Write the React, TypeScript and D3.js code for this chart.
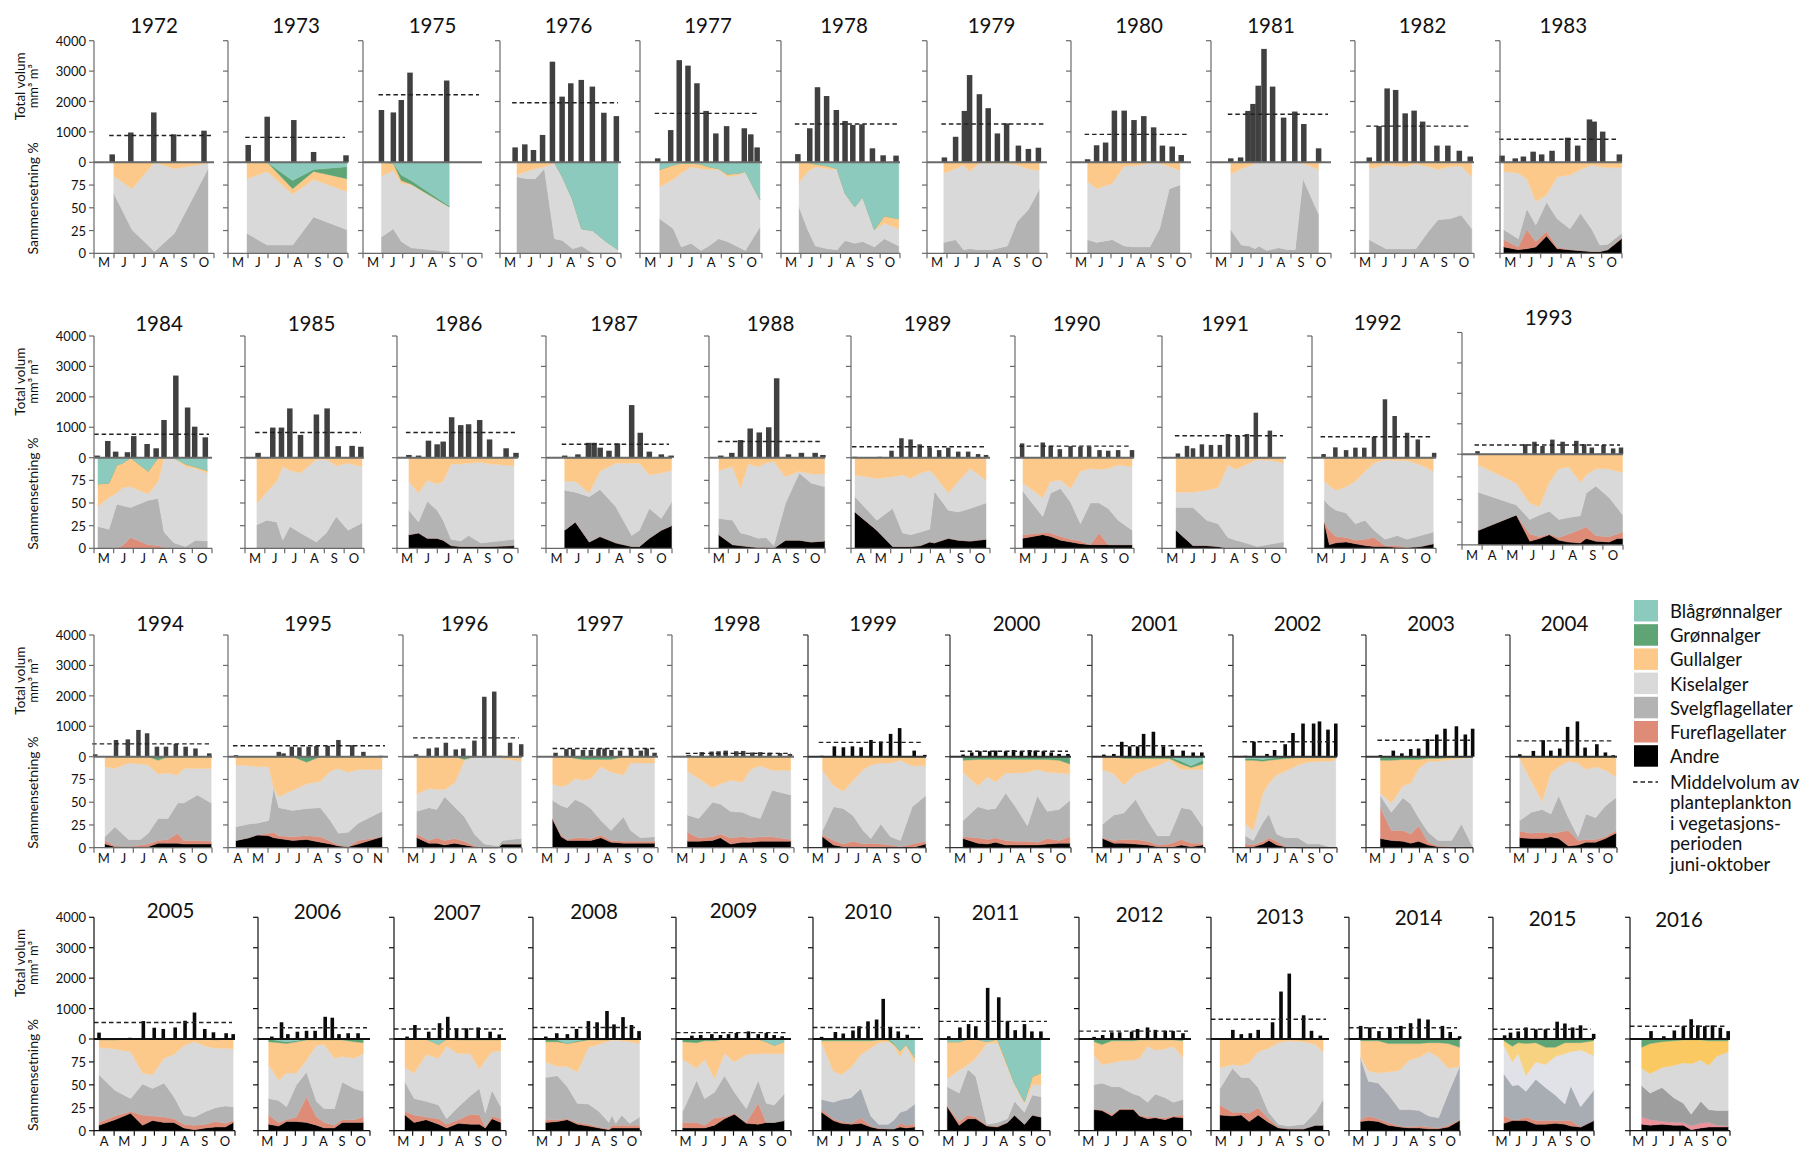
import React from "react";
import * as d3 from "d3";

// ---------------- DATA ----------------
const years = [1972, 1973, 1975, 1976, 1977, 1978, 1979, 1980, 1981, 1982, 1983,
  1984, 1985, 1986, 1987, 1988, 1989, 1990, 1991, 1992, 1993,
  1994, 1995, 1996, 1997, 1998, 1999, 2000, 2001, 2002, 2003, 2004,
  2005, 2006, 2007, 2008, 2009, 2010, 2011, 2012, 2013, 2014, 2015, 2016];

// first and last month shown on each panel's x axis (3 = March ... 11 = November)
const monthSpan = [
  [5, 10], [5, 10], [5, 10], [5, 10], [5, 10], [5, 10], [5, 10], [5, 10], [5, 10], [5, 10], [5, 10],
  [5, 10], [5, 10], [5, 10], [5, 10], [5, 10], [4, 10], [5, 10], [5, 10], [5, 10], [3, 10],
  [5, 10], [4, 11], [5, 10], [5, 10], [5, 10], [5, 10], [5, 10], [5, 10], [5, 10], [5, 10], [5, 10],
  [4, 10], [5, 10], [5, 10], [5, 10], [5, 10], [5, 10], [5, 10], [5, 10], [5, 10], [5, 10], [5, 10], [5, 10]];

const monthLetters = ["J", "F", "M", "A", "M", "J", "J", "A", "S", "O", "N", "D"];
const volumeTicks = [0, 1000, 2000, 3000, 4000];
const compTicks = [0, 25, 50, 75];

// sampling dates of the volume bars (month number + fraction of month)
const barDates = [
  [5.91, 6.84, 7.99, 8.98, 10.5],
  [6.01, 6.96, 8.29, 9.28, 10.9],
  [5.93, 6.53, 6.93, 7.37, 9.22],
  [5.75, 6.23, 6.66, 7.11, 7.6, 8.08, 8.51, 9.03, 9.58, 10.15, 10.77],
  [5.87, 6.51, 6.93, 7.36, 7.8, 8.25, 8.73, 9.26, 10.13, 10.45, 10.76],
  [5.85, 6.45, 6.84, 7.3, 7.79, 8.23, 8.62, 9.08, 9.61, 10.15, 10.8],
  [5.87, 6.43, 6.87, 7.13, 7.62, 8.06, 8.52, 8.98, 9.57, 10.07, 10.57],
  [5.83, 6.28, 6.73, 7.17, 7.66, 8.15, 8.64, 9.13, 9.57, 10.06, 10.51],
  [5.99, 6.48, 6.85, 7.1, 7.36, 7.65, 8.08, 8.63, 9.19, 9.64, 10.38],
  [5.72, 6.21, 6.62, 7.05, 7.53, 7.98, 8.41, 9.13, 9.68, 10.26, 10.81],
  [5.1, 5.75, 6.15, 6.63, 7.05, 7.56, 8.33, 8.82, 9.4, 9.63, 10.05, 10.87],
  [5.16, 5.7, 6.1, 6.7, 7.02, 7.7, 8.16, 8.56, 9.16, 9.76, 10.12, 10.66],
  [5.66, 6.4, 6.84, 7.26, 7.8, 8.6, 9.14, 9.7, 10.4, 10.84],
  [5.59, 6.07, 6.56, 6.99, 7.29, 7.71, 8.16, 8.55, 9.1, 9.59, 10.41, 10.9],
  [5.89, 6.52, 7.02, 7.29, 7.58, 8.0, 8.4, 9.08, 9.49, 9.92, 10.49, 10.96],
  [5.61, 6.18, 6.63, 7.13, 7.6, 8.09, 8.5, 9.11, 9.78, 10.49, 10.89],
  [4.2, 5.44, 6.04, 6.54, 7.0, 7.46, 7.96, 8.44, 8.9, 9.4, 9.9, 10.4, 10.8],
  [5.36, 6.4, 6.8, 7.26, 7.8, 8.3, 8.74, 9.26, 9.7, 10.2, 10.9],
  [5.77, 6.21, 6.5, 6.93, 7.37, 7.8, 8.19, 8.67, 9.11, 9.54, 10.22],
  [5.56, 6.13, 6.65, 7.1, 7.53, 8.0, 8.53, 9.0, 9.6, 10.12, 10.91],
  [3.77, 6.14, 6.6, 7.0, 7.49, 8.0, 8.68, 9.07, 9.45, 10.03, 10.51, 10.9],
  [5.06, 6.12, 6.72, 7.26, 7.7, 8.2, 8.66, 9.16, 9.66, 10.16, 10.86],
  [4.4, 6.54, 6.78, 7.19, 7.57, 8.03, 8.42, 8.98, 9.52, 10.21, 10.77, 11.64],
  [5.66, 6.3, 6.7, 7.16, 7.66, 8.04, 8.6, 9.1, 9.6, 9.9, 10.4, 10.96],
  [5.92, 6.46, 6.79, 7.28, 7.67, 8.05, 8.35, 8.69, 9.12, 9.66, 10.15, 10.44, 10.83],
  [5.82, 6.46, 6.95, 7.29, 7.64, 8.16, 8.5, 8.95, 9.34, 9.79, 10.31, 10.8],
  [5.7, 6.34, 6.8, 7.26, 7.7, 8.2, 8.7, 9.2, 9.66, 10.4, 10.94],
  [5.65, 6.08, 6.48, 6.97, 7.26, 7.76, 8.15, 8.54, 8.94, 9.23, 9.63, 10.02, 10.41, 10.85],
  [5.63, 6.16, 6.58, 7.0, 7.42, 7.74, 8.26, 8.79, 9.27, 9.84, 10.37, 10.83],
  [5.72, 6.21, 6.96, 7.4, 8.01, 8.46, 9.04, 9.65, 9.99, 10.48, 10.93],
  [5.81, 6.53, 7.01, 7.51, 7.95, 8.45, 8.97, 9.43, 10.07, 10.57, 10.98],
  [5.55, 6.31, 6.86, 7.29, 7.79, 8.23, 8.78, 9.21, 9.87, 10.35, 10.79],
  [4.25, 5.78, 6.45, 6.99, 7.44, 8.03, 8.52, 8.99, 9.5, 9.93, 10.56, 10.91],
  [5.74, 6.26, 6.6, 7.11, 7.6, 8.06, 8.6, 8.98, 9.34, 9.83, 10.36],
  [5.7, 6.12, 6.86, 7.44, 7.88, 8.35, 8.88, 9.51, 10.15, 10.64],
  [5.71, 6.32, 6.91, 7.42, 8.08, 8.56, 9.11, 9.5, 10.0, 10.47, 10.89],
  [5.35, 5.83, 6.29, 6.87, 7.32, 7.74, 8.15, 8.78, 9.29, 9.71, 10.12, 10.54],
  [5.47, 6.22, 6.65, 7.18, 7.51, 8.0, 8.47, 8.83, 9.22, 9.65, 10.14],
  [5.53, 6.13, 6.6, 6.99, 7.63, 8.23, 8.7, 9.12, 9.62, 10.02, 10.51],
  [5.81, 6.27, 6.76, 7.18, 7.82, 8.14, 8.67, 9.09, 9.62, 10.04, 10.57],
  [5.46, 6.11, 6.54, 7.0, 7.4, 8.13, 8.56, 8.98, 9.71, 10.11, 10.56],
  [5.63, 6.12, 6.62, 7.21, 7.8, 8.33, 8.79, 9.27, 10.05, 10.47, 10.98],
  [5.69, 6.04, 6.5, 6.96, 7.54, 8.12, 8.81, 9.27, 9.73, 10.2, 10.98],
  [5.86, 6.26, 7.03, 7.66, 8.2, 8.67, 9.07, 9.49, 9.95, 10.42, 10.89]];

// total volume, mm3 m-3
const volume = [
  [260, 980, 1640, 920, 1040],
  [570, 1500, 1390, 340, 230],
  [1720, 1640, 2050, 2950, 2690],
  [490, 590, 405, 900, 3310, 2160, 2600, 2710, 2490, 1630, 1520],
  [130, 1060, 3360, 3180, 2600, 1690, 950, 1190, 1120, 920, 490],
  [270, 1120, 2470, 2180, 1720, 1360, 1230, 1250, 460, 230, 220],
  [160, 840, 1690, 2870, 2240, 1780, 950, 1280, 550, 440, 480],
  [100, 560, 650, 1700, 1700, 1390, 1520, 1150, 550, 520, 240],
  [130, 160, 1690, 1920, 2520, 3730, 2490, 1470, 1670, 1260, 460],
  [160, 1190, 2430, 2380, 1610, 1700, 1340, 550, 550, 380, 190],
  [220, 130, 190, 350, 260, 380, 810, 550, 1410, 1340, 1010, 260],
  [70, 550, 200, 180, 710, 450, 310, 1240, 2700, 1650, 1020, 670],
  [160, 990, 990, 1620, 750, 1420, 1620, 380, 390, 360],
  [90, 70, 560, 440, 530, 1330, 1070, 1100, 1240, 600, 310, 160],
  [70, 110, 490, 490, 330, 230, 470, 1730, 820, 200, 110, 70],
  [70, 160, 580, 960, 830, 1000, 2610, 110, 160, 160, 90],
  [30, 30, 230, 640, 600, 440, 340, 250, 330, 200, 200, 120, 90],
  [470, 500, 390, 280, 380, 360, 360, 250, 230, 250, 250],
  [140, 390, 310, 440, 420, 420, 780, 720, 780, 1480, 890],
  [120, 340, 250, 330, 330, 690, 1920, 1370, 820, 600, 160],
  [100, 330, 410, 270, 480, 410, 440, 330, 220, 300, 190, 220],
  [80, 550, 570, 880, 770, 330, 330, 420, 330, 270, 110],
  [50, 160, 110, 330, 310, 330, 350, 360, 550, 380, 160, 30],
  [80, 270, 300, 460, 240, 270, 530, 1970, 2140, 30, 460, 410],
  [130, 250, 250, 220, 220, 250, 270, 220, 200, 250, 200, 270, 130],
  [60, 150, 170, 180, 200, 180, 190, 140, 150, 130, 120, 90],
  [30, 340, 310, 340, 310, 550, 500, 750, 940, 200, 60],
  [70, 140, 180, 180, 200, 180, 220, 180, 220, 200, 180, 140, 90, 90],
  [70, 90, 490, 340, 340, 750, 820, 340, 230, 200, 140, 140],
  [30, 490, 90, 220, 410, 780, 1090, 1090, 1160, 890, 1090],
  [50, 200, 110, 250, 270, 580, 730, 920, 1000, 730, 920],
  [80, 190, 540, 200, 270, 980, 1160, 300, 410, 140, 50],
  [210, 40, 590, 370, 330, 380, 600, 870, 330, 220, 190, 160],
  [80, 550, 160, 240, 270, 270, 730, 700, 160, 190, 190],
  [80, 460, 240, 520, 730, 350, 350, 380, 240, 150],
  [80, 190, 160, 330, 590, 550, 920, 480, 720, 460, 260],
  [20, 110, 130, 160, 130, 160, 200, 250, 160, 200, 130, 90],
  [70, 230, 180, 280, 420, 580, 640, 1320, 380, 250, 140],
  [90, 380, 490, 420, 1680, 1370, 580, 290, 490, 250, 250],
  [70, 130, 220, 220, 240, 330, 380, 300, 270, 260, 190],
  [20, 300, 160, 190, 300, 550, 1560, 2150, 780, 270, 110],
  [430, 380, 260, 380, 430, 520, 670, 640, 430, 230, 90],
  [120, 210, 250, 380, 320, 320, 570, 510, 380, 450, 170],
  [30, 260, 90, 280, 420, 650, 450, 420, 450, 370, 260]];

// mean volume June-October
const meanVolume = [880, 820, 2220, 1960, 1610, 1260, 1260, 920, 1580, 1190, 760,
  770, 830, 830, 440, 530, 360, 380, 720, 690, 300,
  420, 360, 620, 270, 110, 470, 180, 360, 490, 540, 520,
  540, 370, 330, 380, 210, 380, 580, 260, 650, 370, 320, 420];

// sampling dates of the composition
const compDates = [
  [5.99, 6.9, 8.03, 9.02, 10.7],
  [5.95, 6.96, 8.23, 9.28, 10.94],
  [5.93, 6.53, 6.93, 7.43, 9.35],
  [5.84, 6.3, 6.75, 7.2, 7.7, 8.1, 8.6, 9.05, 9.6, 10.2, 10.85],
  [5.97, 6.64, 7.03, 7.51, 8.0, 8.38, 8.87, 9.29, 9.84, 10.18, 10.9],
  [5.91, 6.35, 6.74, 7.34, 7.83, 8.23, 8.72, 9.12, 9.71, 10.21, 10.94],
  [5.84, 6.43, 6.83, 7.13, 7.62, 8.22, 9.02, 9.51, 10.07, 10.61],
  [5.83, 6.28, 7.07, 7.66, 8.15, 8.94, 9.43, 9.92, 10.45],
  [5.99, 6.52, 6.91, 7.2, 7.4, 7.79, 8.37, 8.86, 9.21, 9.6, 10.38],
  [5.72, 6.56, 7.52, 8.07, 8.7, 9.19, 9.77, 10.36, 10.89],
  [5.19, 5.9, 6.32, 6.76, 7.29, 7.81, 8.44, 8.96, 9.53, 9.91, 10.3, 10.98],
  [5.2, 5.76, 6.16, 6.46, 6.86, 7.76, 8.26, 8.56, 9.06, 9.66, 10.16, 10.76],
  [5.6, 6.1, 6.6, 6.9, 7.26, 7.8, 8.6, 9.1, 9.6, 10.2, 10.9],
  [5.59, 6.07, 6.5, 6.99, 7.29, 7.68, 8.16, 8.55, 9.14, 9.63, 10.8],
  [5.89, 6.4, 7.06, 7.57, 8.32, 9.08, 9.45, 9.92, 10.49, 10.98],
  [5.51, 6.22, 6.63, 7.03, 7.54, 7.95, 8.35, 8.96, 9.67, 10.28, 10.98],
  [4.2, 5.3, 6.1, 6.6, 7.0, 7.5, 7.96, 8.2, 8.9, 9.4, 10.0, 10.8],
  [5.4, 6.4, 6.8, 7.3, 7.8, 8.3, 8.8, 9.24, 9.7, 10.2, 10.9],
  [5.68, 6.5, 7.16, 7.72, 8.19, 8.57, 9.04, 9.6, 10.35, 10.88],
  [5.6, 5.84, 6.16, 6.65, 7.1, 7.57, 8.0, 8.53, 9.13, 9.6, 10.25, 10.87],
  [3.81, 5.7, 6.37, 6.85, 7.34, 7.82, 8.3, 8.88, 9.17, 9.65, 10.32, 10.71, 10.98],
  [5.56, 6.06, 6.76, 7.36, 7.76, 8.26, 8.76, 9.26, 9.56, 10.26, 10.96],
  [4.4, 5.05, 5.45, 6.04, 6.28, 6.54, 7.23, 7.93, 8.62, 9.12, 9.52, 10.01, 10.51, 11.7],
  [5.7, 6.3, 6.7, 7.1, 7.6, 8.1, 8.6, 9.1, 9.8, 10.0, 10.96],
  [5.78, 6.2, 6.5, 6.89, 7.28, 7.67, 8.17, 8.67, 9.29, 9.64, 10.13, 10.83],
  [5.76, 6.31, 6.99, 7.38, 7.87, 8.46, 8.85, 9.34, 9.92, 10.84],
  [5.74, 6.3, 6.8, 7.3, 7.8, 8.2, 8.7, 9.2, 9.7, 10.3, 10.98],
  [5.65, 6.38, 6.87, 7.26, 7.76, 8.25, 8.84, 9.33, 9.82, 10.41, 10.94],
  [5.57, 6.16, 6.68, 7.32, 7.95, 8.47, 9.11, 9.74, 10.26, 10.89],
  [5.72, 6.17, 6.73, 7.07, 7.52, 8.01, 8.75, 9.31, 9.99, 10.55, 10.93],
  [5.81, 6.42, 7.07, 7.51, 7.95, 8.49, 9.04, 9.8, 10.35, 10.98],
  [5.55, 6.2, 6.81, 7.29, 7.73, 8.28, 8.82, 9.26, 9.8, 10.35, 10.94],
  [4.25, 5.04, 5.82, 6.41, 6.9, 7.48, 7.97, 8.46, 8.99, 9.54, 10.03, 10.52, 10.91],
  [5.57, 6.11, 6.53, 7.06, 7.6, 8.13, 8.55, 9.09, 9.51, 10.15, 10.64],
  [5.59, 6.08, 6.72, 7.39, 7.82, 8.45, 9.09, 9.58, 9.89, 10.25, 10.72],
  [5.71, 6.36, 6.91, 7.46, 8.08, 8.67, 9.22, 9.38, 9.6, 9.93, 10.37, 10.92],
  [5.35, 6.08, 6.49, 7.01, 7.53, 8.05, 8.67, 9.29, 9.71, 10.12, 10.64],
  [5.47, 6.11, 6.54, 7.08, 7.61, 8.15, 8.58, 9.11, 9.43, 9.75, 10.08, 10.55],
  [5.45, 6.09, 6.56, 6.99, 7.59, 8.16, 8.7, 9.08, 9.62, 10.04, 10.51],
  [5.81, 6.23, 6.76, 7.18, 7.92, 8.24, 8.67, 9.09, 9.62, 10.04, 10.57],
  [5.46, 6.09, 6.54, 6.94, 7.4, 7.93, 8.43, 8.92, 9.71, 10.31, 10.7],
  [5.63, 6.05, 6.58, 7.11, 7.74, 8.26, 8.79, 9.32, 9.84, 10.37, 10.98],
  [5.65, 6.15, 6.5, 6.96, 7.54, 8.12, 8.7, 9.27, 9.62, 10.2, 10.98],
  [5.7, 6.21, 6.92, 7.62, 8.2, 8.67, 9.25, 9.72, 10.19, 10.89]];

// composition, % per group
const andre = [
  [0, 0, 0, 0, 0], [0, 0, 0, 0, 0], [0, 0, 0, 0, 0],
  [0, 0, 0, 0, 0, 0, 0, 0, 0, 0, 0], [0, 0, 0, 0, 0, 0, 0, 0, 0, 0, 0], [0, 0, 0, 0, 0, 0, 0, 0, 0, 0, 0],
  [0, 0, 0, 0, 0, 0, 0, 0, 0, 0], [0, 0, 0, 0, 0, 0, 0, 0, 0], [0, 0, 0, 0, 0, 0, 0, 0, 0, 0, 0],
  [0, 0, 0, 0, 0, 0, 0, 0, 0],
  [7, 4, 5, 7, 19, 5, 4, 3, 2, 2, 4, 16],
  [0, 0, 0, 0, 0, 0, 0, 0, 0, 0, 0, 0],
  [0, 0, 0, 0, 0, 0, 0, 0, 0, 0, 0],
  [15, 17, 11, 11, 9, 3, 2, 2, 2, 2, 3],
  [20, 29, 7, 13, 6, 2, 2, 11, 20, 25],
  [15, 4, 3, 2, 1, 1, 0, 9, 9, 7, 8],
  [40, 20, 2, 2, 2, 3, 7, 6, 11, 9, 8, 10],
  [11, 15, 13, 9, 7, 5, 4, 4, 4, 4, 4],
  [20, 3, 3, 2, 0, 0, 0, 0, 0, 0],
  [28, 4, 6, 7, 5, 3, 2, 2, 1, 1, 2, 5],
  [16, 33, 4, 7, 11, 5, 3, 2, 7, 4, 3, 7, 7],
  [4, 1, 1, 1, 1, 5, 5, 5, 4, 4, 4],
  [8, 11, 14, 13, 11, 10, 8, 9, 6, 4, 2, 1, 4, 12],
  [11, 5, 5, 3, 5, 3, 1, 0, 0, 4, 4],
  [31, 12, 8, 8, 8, 8, 11, 6, 5, 5, 5, 5],
  [7, 7, 8, 11, 4, 6, 6, 7, 7, 7],
  [12, 3, 1, 1, 1, 0, 0, 0, 0, 0, 4],
  [10, 5, 4, 6, 3, 3, 3, 3, 4, 5, 5],
  [10, 5, 5, 4, 3, 1, 0, 3, 1, 3],
  [1, 1, 4, 8, 3, 1, 0, 0, 0, 0, 0],
  [10, 8, 7, 5, 7, 3, 1, 0, 0, 0],
  [11, 10, 10, 12, 10, 2, 3, 6, 6, 10, 16],
  [6, 12, 19, 6, 11, 9, 9, 3, 1, 3, 4, 4, 9],
  [7, 5, 10, 10, 9, 6, 3, 3, 9, 9, 9],
  [17, 9, 12, 7, 3, 8, 7, 7, 3, 13, 9],
  [9, 10, 12, 7, 5, 3, 1, 3, 3, 3, 3, 3],
  [3, 3, 3, 6, 13, 18, 8, 7, 9, 9, 11],
  [20, 11, 8, 7, 8, 4, 2, 2, 2, 4, 3, 4],
  [26, 6, 13, 13, 5, 4, 9, 17, 7, 17, 15],
  [23, 22, 16, 23, 23, 16, 13, 14, 12, 15, 14],
  [17, 16, 17, 10, 17, 9, 3, 2, 2, 6, 6],
  [10, 11, 10, 6, 4, 3, 3, 2, 2, 4, 11],
  [8, 11, 11, 11, 7, 7, 8, 7, 5, 4, 11],
  [7, 6, 7, 6, 6, 1, 3, 4, 4, 4]];

const fure = [
  [0, 0, 0, 0, 0], [0, 0, 0, 0, 0], [0, 0, 0, 0, 0],
  [0, 0, 0, 0, 0, 0, 0, 0, 0, 0, 0], [0, 0, 0, 0, 0, 0, 0, 0, 0, 0, 0], [0, 0, 0, 0, 0, 0, 0, 0, 0, 0, 0],
  [0, 0, 0, 0, 0, 0, 0, 0, 0, 0], [0, 0, 0, 0, 0, 0, 0, 0, 0], [0, 0, 0, 0, 0, 0, 0, 0, 0, 0, 0],
  [0, 0, 0, 0, 0, 0, 0, 0, 0],
  [8, 3, 21, 6, 5, 2, 0, 0, 0, 0, 0, 1],
  [0, 0, 0, 3, 12, 4, 3, 1, 0, 0, 0, 0],
  [0, 0, 0, 0, 0, 0, 0, 0, 0, 0, 0],
  [0, 0, 0, 0, 0, 0, 0, 0, 0, 0, 0],
  [0, 0, 0, 0, 0, 0, 0, 0, 0, 0],
  [0, 0, 0, 0, 0, 0, 0, 0, 0, 0, 0],
  [0, 0, 0, 0, 0, 0, 0, 0, 0, 0, 0, 0],
  [4, 2, 4, 4, 3, 3, 0, 13, 0, 0, 0],
  [0, 0, 0, 0, 0, 0, 0, 0, 0, 0],
  [1, 16, 7, 5, 4, 7, 10, 1, 2, 0, 0, 0],
  [0, 0, 8, 2, 1, 3, 9, 15, 13, 6, 6, 5, 7],
  [4, 1, 0, 2, 3, 3, 4, 11, 4, 4, 3],
  [0, 0, 0, 3, 6, 3, 4, 4, 6, 3, 1, 0, 4, 0],
  [4, 3, 6, 5, 5, 4, 1, 0, 0, 0, 0],
  [1, 2, 1, 3, 3, 2, 3, 2, 2, 2, 2, 2],
  [10, 4, 4, 4, 7, 6, 5, 5, 5, 2],
  [2, 5, 3, 6, 3, 5, 4, 3, 1, 4, 3],
  [2, 6, 5, 5, 5, 4, 4, 3, 6, 3, 7],
  [1, 3, 4, 5, 4, 2, 4, 6, 4, 2],
  [3, 2, 3, 3, 4, 0, 0, 0, 0, 0, 0],
  [34, 11, 12, 10, 17, 3, 1, 1, 1, 0],
  [7, 6, 7, 4, 7, 17, 5, 3, 3, 2, 3],
  [3, 4, 2, 11, 5, 6, 4, 4, 5, 4, 6, 4, 2],
  [10, 4, 2, 5, 28, 9, 6, 3, 3, 3, 6],
  [4, 8, 3, 6, 4, 4, 11, 10, 1, 3, 4],
  [3, 2, 1, 2, 2, 1, 1, 3, 3, 3, 3, 3],
  [6, 6, 3, 8, 2, 1, 1, 23, 0, 0, 0],
  [3, 2, 2, 1, 6, 1, 1, 0, 0, 4, 3, 3],
  [1, 4, 4, 2, 1, 1, 0, 0, 0, 0, 0],
  [0, 1, 2, 1, 1, 1, 2, 1, 2, 1, 3],
  [11, 4, 3, 9, 8, 4, 1, 0, 0, 0, 0],
  [2, 5, 3, 3, 1, 1, 2, 2, 1, 2, 1],
  [8, 1, 1, 4, 4, 4, 3, 4, 6, 0, 0],
  [8, 6, 3, 3, 3, 4, 5, 5, 2, 1]];

const svelg = [
  [66, 26, 2, 22, 93],
  [22, 9, 9, 40, 26],
  [18, 27, 13, 6, 2],
  [84, 82, 82, 93, 16, 14, 5, 8, 0, 0, 0],
  [38, 27, 7, 11, 3, 8, 16, 13, 7, 3, 29],
  [51, 26, 8, 5, 4, 14, 11, 13, 7, 16, 8],
  [12, 15, 4, 5, 4, 4, 8, 35, 48, 70],
  [15, 12, 15, 8, 7, 7, 27, 71, 75],
  [26, 9, 8, 5, 8, 3, 6, 4, 4, 82, 43],
  [15, 5, 5, 5, 24, 37, 38, 42, 27],
  [11, 9, 23, 18, 32, 31, 23, 41, 24, 7, 6, 5],
  [24, 21, 49, 44, 33, 49, 52, 17, 6, 2, 9, 8],
  [26, 31, 29, 9, 24, 17, 7, 17, 35, 20, 28],
  [27, 12, 41, 31, 22, 7, 6, 12, 4, 5, 7],
  [44, 33, 50, 52, 40, 12, 18, 33, 13, 26],
  [18, 27, 14, 13, 10, 11, 3, 41, 74, 65, 60],
  [17, 11, 42, 15, 13, 15, 14, 57, 31, 31, 36, 40],
  [48, 18, 44, 53, 41, 19, 46, 33, 40, 27, 16],
  [25, 42, 28, 25, 12, 9, 6, 2, 5, 7],
  [24, 27, 29, 27, 18, 21, 8, 7, 11, 9, 12, 13],
  [42, 11, 16, 24, 25, 20, 18, 15, 37, 55, 43, 29, 19],
  [4, 21, 8, 6, 12, 24, 23, 33, 41, 50, 42],
  [15, 15, 13, 14, 49, 31, 29, 30, 32, 23, 13, 16, 19, 28],
  [25, 36, 31, 48, 35, 27, 13, 4, 2, 4, 6],
  [20, 32, 35, 42, 38, 33, 16, 11, 27, 12, 4, 5],
  [19, 21, 38, 33, 29, 27, 24, 20, 51, 49],
  [5, 37, 39, 28, 15, 5, 22, 9, 7, 41, 50],
  [18, 34, 33, 32, 52, 38, 17, 51, 30, 34, 40],
  [15, 28, 29, 44, 23, 10, 9, 35, 37, 18],
  [9, 5, 21, 26, 8, 10, 11, 4, 4, 1, 0],
  [13, 20, 36, 33, 9, 11, 6, 7, 25, 1],
  [12, 23, 25, 21, 40, 14, 4, 28, 24, 34, 36],
  [52, 28, 14, 34, 30, 37, 24, 10, 9, 14, 15, 19, 15],
  [18, 24, 14, 35, 27, 17, 15, 18, 41, 34, 28],
  [32, 18, 17, 15, 6, 14, 20, 29, 15, 28, 13],
  [46, 48, 35, 21, 22, 17, 7, 11, 2, 11, 2, 9],
  [12, 46, 29, 28, 45, 23, 15, 25, 21, 19, 29],
  [11, 18, 24, 28, 32, 11, 4, 5, 10, 12, 16, 22],
  [21, 31, 50, 44, 1, 4, 4, 15, 13, 22, 22],
  [27, 29, 30, 24, 16, 21, 16, 25, 22, 15, 17],
  [18, 48, 38, 39, 22, 7, 3, 3, 5, 14, 28],
  [67, 38, 39, 31, 18, 19, 17, 12, 11, 35, 58],
  [46, 37, 38, 28, 45, 36, 28, 18, 38, 22, 33],
  [34, 29, 37, 27, 21, 13, 24, 14, 16, 17]];

const kisel = [
  [19, 45, 98, 71, 6],
  [60, 81, 56, 41, 42],
  [67, 64, 64, 69, 49],
  [2, 8, 11, 2, 83, 70, 54, 19, 25, 14, 4],
  [35, 54, 81, 84, 90, 84, 76, 71, 79, 87, 30],
  [27, 64, 87, 88, 88, 52, 40, 49, 19, 17, 19],
  [76, 78, 93, 85, 95, 95, 91, 62, 45, 21],
  [64, 59, 62, 88, 89, 92, 72, 24, 16],
  [61, 84, 88, 94, 92, 97, 94, 96, 96, 17, 49],
  [78, 92, 90, 93, 71, 55, 57, 54, 57],
  [64, 72, 33, 26, 8, 46, 59, 48, 71, 86, 84, 72],
  [22, 35, 12, 20, 23, 7, 19, 81, 94, 88, 79, 75],
  [24, 31, 45, 81, 62, 66, 91, 81, 56, 74, 62],
  [32, 32, 23, 29, 43, 83, 85, 80, 89, 86, 81],
  [10, 12, 4, 20, 48, 80, 74, 37, 50, 35],
  [53, 59, 49, 78, 79, 82, 93, 29, 2, 10, 14],
  [24, 46, 35, 64, 62, 65, 65, 18, 19, 34, 44, 25],
  [9, 21, 13, 9, 15, 58, 38, 37, 44, 61, 70],
  [17, 17, 33, 40, 80, 78, 86, 96, 92, 87],
  [21, 22, 22, 29, 47, 54, 74, 88, 83, 87, 78, 67],
  [30, 24, 18, 9, 32, 56, 56, 37, 20, 19, 32, 40, 47],
  [77, 64, 84, 83, 75, 49, 50, 31, 38, 29, 38],
  [68, 64, 62, 59, 0, 12, 22, 27, 29, 54, 71, 66, 59, 46],
  [19, 21, 22, 8, 26, 62, 85, 96, 98, 90, 85],
  [18, 21, 25, 23, 25, 33, 59, 64, 46, 74, 82, 81],
  [48, 44, 16, 22, 34, 33, 51, 58, 22, 27],
  [66, 23, 19, 39, 67, 81, 67, 81, 88, 45, 33],
  [53, 23, 36, 29, 22, 37, 59, 29, 43, 40, 29],
  [60, 45, 31, 28, 56, 77, 83, 42, 44, 63],
  [13, 11, 32, 34, 65, 73, 80, 90, 91, 94, 96],
  [3, 10, 13, 23, 54, 78, 87, 89, 72, 98],
  [68, 34, 9, 45, 32, 62, 81, 49, 56, 39, 23],
  [30, 45, 51, 12, 15, 27, 46, 76, 82, 71, 65, 63, 63],
  [37, 22, 37, 13, 13, 61, 70, 55, 28, 33, 41],
  [16, 28, 51, 51, 79, 58, 46, 21, 58, 42, 61],
  [17, 10, 22, 34, 62, 73, 89, 81, 91, 81, 89, 80],
  [57, 13, 43, 15, 24, 33, 59, 29, 54, 56, 44],
  [62, 34, 27, 33, 37, 74, 89, 90, 80, 61, 70, 45],
  [9, 25, 5, 20, 88, 87, 56, 18, 10, 11, 13],
  [32, 20, 26, 28, 37, 41, 61, 48, 53, 61, 46],
  [23, 4, 13, 16, 39, 70, 89, 93, 90, 74, 52],
  [1, 11, 11, 24, 43, 54, 58, 70, 66, 27, 0],
  [31, 26, 34, 17, 19, 25, 42, 55, 37, 62, 38],
  [19, 21, 22, 35, 44, 55, 45, 48, 59, 64]];

const gull = [
  [15, 29, 0, 7, 1],
  [18, 10, 6, 9, 14],
  [15, 8, 3, 1, 0],
  [14, 10, 7, 5, 1, 0, 0, 0, 0, 0, 0],
  [19, 16, 11, 4, 5, 3, 1, 3, 2, 0, 0],
  [22, 10, 3, 3, 1, 0, 0, 0, 0, 8, 11],
  [12, 7, 3, 10, 1, 1, 1, 3, 7, 9],
  [21, 29, 23, 4, 4, 1, 1, 5, 9],
  [13, 7, 4, 1, 0, 0, 0, 0, 0, 1, 8],
  [7, 3, 5, 2, 5, 8, 5, 4, 16],
  [10, 12, 18, 43, 36, 16, 14, 8, 3, 5, 6, 6],
  [25, 16, 31, 27, 32, 25, 26, 1, 0, 3, 2, 3],
  [50, 38, 26, 10, 14, 17, 2, 2, 9, 6, 10],
  [26, 39, 25, 29, 26, 7, 7, 6, 5, 7, 9],
  [26, 26, 39, 15, 6, 6, 6, 19, 17, 14],
  [14, 10, 34, 7, 10, 6, 4, 21, 15, 18, 18],
  [19, 23, 21, 19, 23, 17, 14, 19, 39, 26, 12, 25],
  [28, 44, 26, 25, 34, 15, 12, 13, 12, 8, 10],
  [38, 38, 36, 33, 8, 13, 8, 2, 3, 6],
  [26, 31, 36, 32, 26, 15, 6, 2, 3, 3, 8, 15],
  [12, 32, 54, 58, 31, 16, 14, 31, 23, 16, 16, 19, 20],
  [11, 13, 7, 8, 9, 15, 18, 20, 13, 13, 13],
  [9, 10, 11, 11, 34, 44, 37, 24, 27, 16, 13, 17, 14, 14],
  [41, 35, 36, 36, 29, 1, 0, 0, 0, 2, 5],
  [30, 33, 31, 22, 23, 21, 8, 14, 20, 7, 7, 7],
  [16, 24, 34, 30, 26, 28, 14, 10, 15, 15],
  [15, 32, 38, 26, 14, 9, 7, 7, 4, 10, 10],
  [13, 29, 19, 25, 15, 15, 14, 11, 14, 14, 11],
  [14, 19, 29, 17, 12, 8, 2, 6, 2, 6],
  [70, 77, 35, 25, 17, 14, 8, 5, 4, 4, 3],
  [36, 47, 29, 26, 10, 3, 3, 2, 1, 1],
  [2, 27, 49, 18, 10, 5, 7, 14, 11, 15, 22],
  [8, 10, 14, 37, 39, 21, 17, 7, 3, 8, 9, 10, 11],
  [25, 41, 32, 34, 22, 6, 5, 20, 18, 18, 12],
  [31, 37, 17, 15, 8, 15, 15, 32, 22, 13, 12],
  [22, 27, 25, 33, 8, 5, 1, 2, 1, 2, 3, 5],
  [19, 28, 20, 41, 16, 25, 17, 16, 13, 9, 13],
  [2, 33, 37, 29, 15, 8, 3, 2, 2, 6, 2, 6],
  [40, 31, 28, 21, 2, 4, 3, 2, 2, 9, 13],
  [15, 22, 24, 22, 21, 20, 7, 11, 10, 7, 18],
  [31, 28, 29, 26, 14, 10, 4, 2, 2, 6, 14],
  [18, 33, 35, 31, 29, 18, 15, 10, 16, 27, 21],
  [5, 17, 12, 35, 21, 19, 10, 12, 10, 8, 16],
  [23, 33, 28, 27, 25, 26, 22, 27, 17, 12]];

const gronn = [
  [0, 0, 0, 0, 0], [0, 0, 9, 2, 13], [0, 0, 6, 4, 1],
  [0, 0, 0, 0, 0, 0, 0, 0, 0, 0, 0], [0, 0, 0, 0, 0, 0, 0, 0, 0, 0, 0], [0, 0, 0, 0, 0, 0, 0, 0, 0, 0, 0],
  [0, 0, 0, 0, 0, 0, 0, 0, 0, 0], [0, 0, 0, 0, 0, 0, 0, 0, 0], [0, 0, 0, 0, 0, 0, 0, 0, 0, 0, 0],
  [0, 0, 0, 0, 0, 0, 0, 0, 0], [0, 0, 0, 0, 0, 0, 0, 0, 0, 0, 0, 0],
  [0, 0, 0, 0, 0, 0, 0, 0, 0, 0, 0, 0], [0, 0, 0, 0, 0, 0, 0, 0, 0, 0, 0], [0, 0, 0, 0, 0, 0, 0, 0, 0, 0, 0],
  [0, 0, 0, 0, 0, 0, 0, 0, 0, 0], [0, 0, 0, 0, 0, 0, 0, 0, 0, 0, 0], [0, 0, 0, 0, 0, 0, 0, 0, 0, 0, 0, 0],
  [0, 0, 0, 0, 0, 0, 0, 0, 0, 0, 0], [0, 0, 0, 0, 0, 0, 0, 0, 0, 0], [0, 0, 0, 0, 0, 0, 0, 0, 0, 0, 0, 0],
  [0, 0, 0, 0, 0, 0, 0, 0, 0, 0, 0, 0, 0],
  [0, 0, 0, 0, 0, 4, 0, 0, 0, 0, 0],
  [0, 0, 0, 0, 0, 0, 0, 6, 0, 0, 0, 0, 0, 0],
  [0, 0, 0, 0, 0, 3, 0, 0, 0, 0, 0],
  [0, 0, 0, 2, 3, 3, 3, 3, 0, 0, 0, 0],
  [0, 0, 0, 0, 0, 0, 0, 0, 0, 0],
  [0, 0, 0, 0, 0, 0, 0, 0, 0, 0, 0],
  [4, 3, 3, 3, 3, 3, 3, 3, 3, 4, 8],
  [0, 0, 2, 2, 2, 2, 2, 3, 2, 4],
  [2, 2, 2, 2, 2, 2, 1, 1, 1, 1, 1],
  [4, 4, 3, 3, 3, 2, 2, 1, 1, 0],
  [0, 0, 0, 0, 0, 0, 0, 0, 0, 0, 0],
  [1, 1, 0, 0, 0, 0, 0, 0, 0, 0, 1, 0, 0],
  [3, 2, 2, 1, 1, 1, 1, 1, 1, 3, 4],
  [0, 0, 0, 0, 0, 1, 1, 1, 1, 1, 1],
  [3, 2, 0, 1, 1, 1, 1, 0, 0, 0, 0, 0],
  [3, 4, 2, 2, 0, 0, 0, 0, 0, 0, 0],
  [2, 2, 2, 2, 2, 2, 1, 1, 1, 0, 0, 0],
  [0, 0, 0, 0, 0, 0, 0, 0, 0, 0, 0],
  [3, 6, 2, 2, 2, 1, 1, 1, 1, 1, 2],
  [0, 0, 0, 0, 0, 0, 0, 0, 1, 0, 0],
  [2, 2, 2, 5, 5, 5, 5, 4, 4, 5, 9],
  [2, 8, 4, 5, 4, 9, 9, 4, 4, 4, 2],
  [9, 5, 3, 2, 1, 1, 1, 2, 2, 2]];

const blagronn = [
  [0, 0, 0, 0, 0], [0, 0, 20, 8, 5], [0, 1, 14, 20, 48],
  [0, 0, 0, 0, 0, 16, 41, 73, 75, 86, 96],
  [8, 3, 1, 1, 2, 5, 7, 13, 12, 10, 41],
  [0, 0, 2, 4, 7, 34, 49, 38, 74, 59, 62],
  [0, 0, 0, 0, 0, 0, 0, 0, 0, 0], [0, 0, 0, 0, 0, 0, 0, 0, 0], [0, 0, 0, 0, 0, 0, 0, 0, 0, 0, 0],
  [0, 0, 0, 0, 0, 0, 0, 0, 0], [0, 0, 0, 0, 0, 0, 0, 0, 0, 0, 0, 0],
  [29, 28, 8, 6, 0, 15, 0, 0, 0, 7, 10, 14],
  [0, 0, 0, 0, 0, 0, 0, 0, 0, 0, 0], [0, 0, 0, 0, 0, 0, 0, 0, 0, 0, 0],
  [0, 0, 0, 0, 0, 0, 0, 0, 0, 0], [0, 0, 0, 0, 0, 0, 0, 0, 0, 0, 0], [0, 0, 0, 0, 0, 0, 0, 0, 0, 0, 0, 0],
  [0, 0, 0, 0, 0, 0, 0, 0, 0, 0, 0], [0, 0, 0, 0, 0, 0, 0, 0, 0, 0], [0, 0, 0, 0, 0, 0, 0, 0, 0, 0, 0, 0],
  [0, 0, 0, 0, 0, 0, 0, 0, 0, 0, 0, 0, 0],
  [0, 0, 0, 0, 0, 0, 0, 0, 0, 0, 0],
  [0, 0, 0, 0, 0, 0, 0, 0, 0, 0, 0, 0, 0, 0],
  [0, 0, 0, 0, 0, 0, 0, 0, 0, 0, 0],
  [0, 0, 0, 0, 0, 0, 0, 0, 0, 0, 0, 0],
  [0, 0, 0, 0, 0, 0, 0, 0, 0, 0],
  [0, 0, 0, 0, 0, 0, 0, 0, 0, 0, 0],
  [0, 0, 0, 0, 0, 0, 0, 0, 0, 0, 0],
  [0, 0, 0, 0, 0, 0, 0, 5, 10, 4],
  [2, 2, 3, 2, 1, 0, 0, 0, 0, 0, 0],
  [0, 0, 0, 0, 0, 0, 0, 0, 0, 0],
  [0, 0, 0, 0, 1, 0, 0, 0, 0, 0, 0],
  [0, 0, 0, 0, 0, 0, 0, 0, 0, 0, 0, 0, 0],
  [0, 2, 3, 2, 0, 0, 0, 0, 0, 0, 0],
  [0, 0, 0, 6, 0, 0, 0, 0, 0, 0, 0],
  [0, 1, 5, 2, 0, 0, 0, 0, 0, 0, 0, 0],
  [0, 0, 0, 0, 0, 0, 0, 0, 3, 7, 3],
  [0, 0, 0, 0, 0, 0, 0, 0, 5, 13, 6, 20],
  [3, 3, 0, 0, 3, 0, 28, 48, 68, 41, 37],
  [0, 0, 0, 0, 0, 0, 0, 0, 0, 0, 0],
  [0, 0, 0, 0, 0, 0, 0, 0, 0, 0, 0],
  [0, 0, 0, 0, 0, 0, 0, 0, 0, 0, 0],
  [0, 0, 0, 0, 0, 0, 0, 0, 0, 0, 0],
  [0, 0, 0, 0, 0, 0, 0, 0, 0, 0]];

const seriesKeys = ["andre", "fure", "svelg", "kisel", "gull", "gronn", "blagronn"];
const seriesData: any = { andre, fure, svelg, kisel, gull, gronn, blagronn };
const legendNames = ["Blågrønnalger", "Grønnalger", "Gullalger", "Kiselalger", "Svelgflagellater", "Fureflagellater", "Andre"];
const legendKeys = ["blagronn", "gronn", "gull", "kisel", "svelg", "fure", "andre"];
const meanLegend = ["Middelvolum av", "planteplankton", "i vegetasjons-", "perioden", "juni-oktober"];

// ---------------- LAYOUT & STYLE ----------------
const W = 1805, H = 1152;
const FONT = "Lato, 'Open Sans', 'Liberation Sans', Arial, sans-serif";
const rowOf = [0, 0, 0, 0, 0, 0, 0, 0, 0, 0, 0, 1, 1, 1, 1, 1, 1, 1, 1, 1, 1,
  2, 2, 2, 2, 2, 2, 2, 2, 2, 2, 2, 3, 3, 3, 3, 3, 3, 3, 3, 3, 3, 3, 3];
const axisLeft = [94, 228, 363, 500, 640, 781, 927, 1071, 1211, 1355, 1500,
  94, 245, 397, 546, 709, 851, 1015, 1162, 1312, 1462,
  94, 228, 403, 537, 672, 808, 950, 1092, 1233, 1366, 1510,
  94, 258, 394, 533, 676, 813, 939, 1079, 1211, 1349, 1493, 1630];
const axisRight = [214, 348, 482, 621, 762, 900, 1047, 1191, 1331, 1474, 1622,
  212, 364, 518, 672, 825, 990, 1134, 1286, 1436, 1623,
  212, 388, 522, 658, 794, 926, 1071, 1205, 1337, 1473, 1617,
  235, 370, 506, 641, 791, 923, 1050, 1191, 1329, 1460, 1594, 1730];
// horizontal offset of each year title from the panel centre
const titleDx = [0, 8, 10, 8, 7, 3.5, 4.5, 8, 0, 8, 2.3,
  6, 7, 1, 5, 3.5, 7, 2, 1, 3.5, 6,
  7, 0, 2, 2, 3.5, 6, 6, 6, 12.6, 11.5, 1,
  6, 3.5, 7, 7, 0, 0, 1, 4.6, 10, 14, 9, -1];
const rowGeom = [
  { top: 40.7, zero: 162.3, bottom: 253.3, title: 25, months: 262 },
  { top: 336, zero: 457.7, bottom: 548.3, title: 323, months: 558 },
  { top: 635, zero: 756.7, bottom: 847.7, title: 623, months: 858 },
  { top: 917.3, zero: 1039, bottom: 1130.7, title: 910, months: 1141 }];
const panelShift: any = { 1993: -3.5 };
const titleShift: any = { 1992: -1, 1993: -3, 2006: 1, 2007: 2, 2008: 1, 2010: 1, 2011: 2, 2012: 4, 2013: 6, 2014: 7, 2015: 8, 2016: 9 };

const basePalette: any = {
  andre: "#000000", fure: "#de8c78", svelg: "#b3b3b3", kisel: "#d9d9d9",
  gull: "#fcc98a", gronn: "#5fa475", blagronn: "#8ccabe"
};
const paletteOverride: any = {
  2010: { svelg: "#a6aab1" },
  2014: { svelg: "#a8abb1" },
  2015: { svelg: "#a8acb3", kisel: "#e1e2e7", gull: "#f7d280" },
  2016: { svelg: "#9e9e9e", gull: "#fbc962", fure: "#ee909a" }
};

function Panel({ i }: { i: number }) {
  const year = years[i];
  const g = rowGeom[rowOf[i]];
  const dy = panelShift[year] || 0;
  const top = g.top + dy, zero = g.zero + dy, bottom = g.bottom + dy;
  const [m0, m1] = monthSpan[i];
  const ax = axisLeft[i], ex = axisRight[i];
  const x = d3.scaleLinear().domain([m0, m1 + 1]).range([ax, ex]);
  const yB = d3.scaleLinear().domain([0, 4000]).range([zero, top]);
  const yC = d3.scaleLinear().domain([0, 1]).range([bottom, zero]);
  const pal = { ...basePalette, ...(paletteOverride[year] || {}) };

  const rows = compDates[i].map((d, j) => {
    const o: any = { date: d };
    seriesKeys.forEach((k) => { o[k] = seriesData[k][i][j] ?? 0; });
    return o;
  });
  const layers = d3.stack<any>().keys(seriesKeys).offset(d3.stackOffsetExpand)(rows);
  const area = d3.area<any>()
    .x((d: any) => x(d.data.date))
    .y0((d: any) => yC(d[0]))
    .y1((d: any) => yC(d[1]));

  const modern = year >= 1999;
  const axisColor = year >= 2005 ? "#111" : modern ? "#333" : "#6a6a6a";
  const barColor = modern ? "#0a0a0a" : "#404040";
  const bw = year <= 1988 ? 5.5 : year <= 1998 ? 4.5 : 3.6;
  const isFirst = i === 0 || rowOf[i] !== rowOf[i - 1];

  const bd = barDates[i];
  const meanX0 = year >= 2005 ? ax : x(bd[0]) - 3;
  const meanX1 = ex - 3;

  const months = d3.range(m0, m1 + 1);
  const monthBounds = d3.range(m0, m1 + 2);

  return (
    <g>
      <text x={(ax + ex) / 2 + titleDx[i]} y={g.title + dy + (titleShift[year] || 0)} textAnchor="middle"
        dominantBaseline="central" fontSize={20.5} fill="#111">{year}</text>
      {/* composition */}
      {layers.map((layer: any) => (
        <path key={layer.key} d={area(layer) || ""} fill={pal[layer.key]} stroke={pal[layer.key]} strokeWidth={0.4} />
      ))}
      {/* volume bars */}
      {bd.map((d, j) => (
        <rect key={j} x={x(d) - bw / 2} y={yB(volume[i][j])} width={bw}
          height={zero - yB(volume[i][j])} fill={barColor} />
      ))}
      {/* mean line */}
      <line x1={meanX0} x2={meanX1} y1={yB(meanVolume[i])} y2={yB(meanVolume[i])}
        stroke="#222" strokeWidth={1.4} strokeDasharray="4.5,3" />
      {/* axes */}
      <line x1={ax} x2={ax} y1={top} y2={bottom} stroke={axisColor} strokeWidth={1.2} />
      <line x1={ax} x2={ex} y1={zero} y2={zero} stroke={axisColor} strokeWidth={2} />
      <line x1={ax} x2={ex} y1={bottom} y2={bottom} stroke={axisColor} strokeWidth={1.2} />
      {volumeTicks.map((t) => (
        <line key={"v" + t} x1={ax - 5} x2={ax} y1={yB(t)} y2={yB(t)} stroke={axisColor} strokeWidth={1.2} />
      ))}
      {compTicks.map((t) => (
        <line key={"c" + t} x1={ax - 5} x2={ax} y1={yC(t / 100)} y2={yC(t / 100)} stroke={axisColor} strokeWidth={1.2} />
      ))}
      {monthBounds.map((m) => (
        <line key={"m" + m} x1={x(m)} x2={x(m)} y1={bottom} y2={bottom + 5} stroke={axisColor} strokeWidth={1.2} />
      ))}
      {months.map((m) => (
        <text key={"l" + m} x={x(m + 0.5)} y={g.months + dy} textAnchor="middle" dominantBaseline="central"
          fontSize={13} fill="#111">{monthLetters[m - 1]}</text>
      ))}
      {isFirst && volumeTicks.map((t) => (
        <text key={"vl" + t} x={ax - 8} y={yB(t)} textAnchor="end" dominantBaseline="central" fontSize={13} fill="#111">{t}</text>
      ))}
      {isFirst && compTicks.map((t) => (
        <text key={"cl" + t} x={ax - 8} y={yC(t / 100)} textAnchor="end" dominantBaseline="central" fontSize={13} fill="#111">{t}</text>
      ))}
    </g>
  );
}

export default function App() {
  return (
    <svg width={W} height={H} viewBox={`0 0 ${W} ${H}`} fontFamily={FONT}
      style={{ position: "absolute", left: 0, top: 0, display: "block", background: "#fff" }}>
      <rect x={0} y={0} width={W} height={H} fill="#fff" />
      {years.map((y, i) => <Panel key={y} i={i} />)}
      {rowGeom.map((g, r) => (
        <g key={"ytitle" + r}>
          <text transform={`translate(20,${g.zero - 76}) rotate(-90)`} textAnchor="middle" dominantBaseline="central" fontSize={13.5} fill="#111">Total volum</text>
          <text transform={`translate(33,${g.zero - 76}) rotate(-90)`} textAnchor="middle" dominantBaseline="central" fontSize={13} fill="#111">mm³ m³</text>
          <text transform={`translate(32,${g.zero + 36}) rotate(-90)`} textAnchor="middle" dominantBaseline="central" fontSize={14} fill="#111">Sammensetning %</text>
        </g>
      ))}
      {/* legend */}
      {legendKeys.map((k, j) => (
        <g key={k}>
          <rect x={1634} y={600 + j * 24.2} width={24} height={21.5} fill={basePalette[k]} />
          <text x={1670} y={611 + j * 24.2} dominantBaseline="central" fontSize={18.5} fill="#111">{legendNames[j]}</text>
        </g>
      ))}
      <line x1={1633} x2={1658} y1={782} y2={782} stroke="#222" strokeWidth={1.4} strokeDasharray="4.5,3" />
      {meanLegend.map((t, j) => (
        <text key={t} x={1670} y={782 + j * 20.4} dominantBaseline="central" fontSize={18.5} fill="#111">{t}</text>
      ))}
    </svg>
  );
}
